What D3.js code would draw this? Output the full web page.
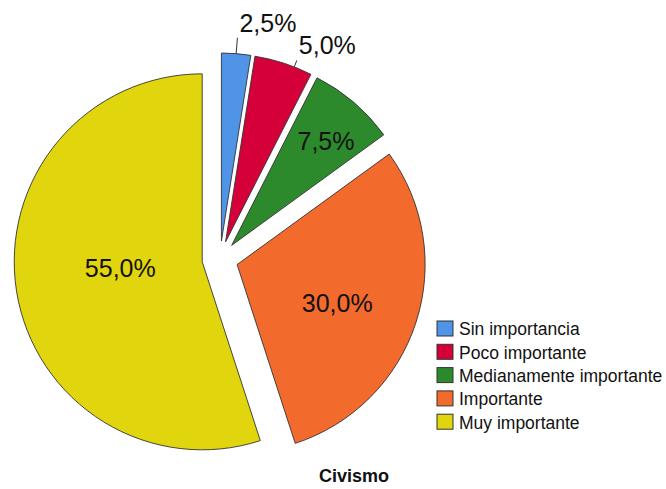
<!DOCTYPE html>
<html>
<head>
<meta charset="utf-8">
<script src="https://cdn.jsdelivr.net/npm/d3@7"></script>
<style>
  body { margin: 0; background: #fff; }
  svg { display: block; font-family: "Liberation Sans", Arial, sans-serif; }
</style>
</head>
<body>
<div id="chart"></div>
<script>
// data -----------------------------------------------------------------
const categories = ["Sin importancia", "Poco importante", "Medianamente importante", "Importante", "Muy importante"];
const percents = [2.5, 5.0, 7.5, 30.0, 55.0];
const colors = ["#4f94e6", "#d5003a", "#2c8a2c", "#f26a2c", "#e1d50e"];
const title = "Civismo";

// label placement: inside slices (fraction of radius + small angle nudge) or outside with a leader
const labelInside = [false, false, true, true, true];
const labelFrac = [0, 0, 0.75, 0.57, 0.437];
const labelNudge = [0, 0.06, 0.026, 0.05, 0.084];

const width = 666, height = 489;
const cx = 220, cy = 259, radius = 188, explode = 18;

const svg = d3.select('#chart')
    .append('svg')
    .attr('width', width)
    .attr('height', height);

const pie = d3.pie().sort(null).value(d => d)(percents);
const arc = d3.arc().innerRadius(0).outerRadius(radius);

const fmt = v => d3.format('.1f')(v).replace('.', ',') + '%';
const midAngle = d => (d.startAngle + d.endAngle) / 2;

const g = svg.append('g').attr('transform', `translate(${cx},${cy})`);

const slices = g.selectAll('g.slice')
    .data(pie)
    .join('g')
    .attr('class', 'slice')
    .attr('transform', d => {
        const a = midAngle(d);
        return `translate(${Math.sin(a) * explode},${-Math.cos(a) * explode})`;
    });

slices.append('path')
    .attr('d', arc)
    .attr('fill', (d, i) => colors[i])
    .attr('stroke', '#333')
    .attr('stroke-width', 0.9)
    .attr('stroke-linejoin', 'round');

// inside labels
slices.filter((d, i) => labelInside[i])
    .append('text')
    .attr('x', d => { const a = midAngle(d) + labelNudge[d.index]; return Math.sin(a) * radius * labelFrac[d.index]; })
    .attr('y', d => { const a = midAngle(d) + labelNudge[d.index]; return -Math.cos(a) * radius * labelFrac[d.index]; })
    .attr('text-anchor', 'middle')
    .attr('dy', '0.36em')
    .attr('font-size', 25)
    .attr('fill', '#111')
    .text(d => fmt(d.data));

// outside labels with leader lines
const leaderLen = [16, 7];
const outside = slices.filter((d, i) => !labelInside[i]);
outside.each(function(d) {
    const sel = d3.select(this);
    const a = midAngle(d) + labelNudge[d.index];
    const x0 = Math.sin(a) * radius, y0 = -Math.cos(a) * radius;
    const len = leaderLen[d.index];
    const x1 = Math.sin(a) * (radius + len), y1 = -Math.cos(a) * (radius + len);
    sel.append('line')
        .attr('x1', x0).attr('y1', y0)
        .attr('x2', x1).attr('y2', y1)
        .attr('stroke', '#333')
        .attr('stroke-width', 1);
    sel.append('text')
        .attr('x', x1 + 2)
        .attr('y', y1 - 6)
        .attr('font-size', 25)
        .attr('fill', '#111')
        .text(fmt(d.data));
});

// legend
const legend = svg.append('g').attr('transform', 'translate(437,321)');
const row = legend.selectAll('g')
    .data(categories)
    .join('g')
    .attr('transform', (d, i) => `translate(0,${i * 23.3})`);

row.append('rect')
    .attr('width', 16)
    .attr('height', 15)
    .attr('fill', (d, i) => colors[i])
    .attr('stroke', '#333')
    .attr('stroke-width', 1);

row.append('text')
    .attr('x', 22)
    .attr('y', 8)
    .attr('dy', '0.36em')
    .attr('font-size', 17.5)
    .attr('fill', '#111')
    .text(d => d);

// title
svg.append('text')
    .attr('x', 354)
    .attr('y', 482)
    .attr('text-anchor', 'middle')
    .attr('font-size', 18)
    .attr('font-weight', 'bold')
    .attr('fill', '#111')
    .text(title);
</script>
</body>
</html>
